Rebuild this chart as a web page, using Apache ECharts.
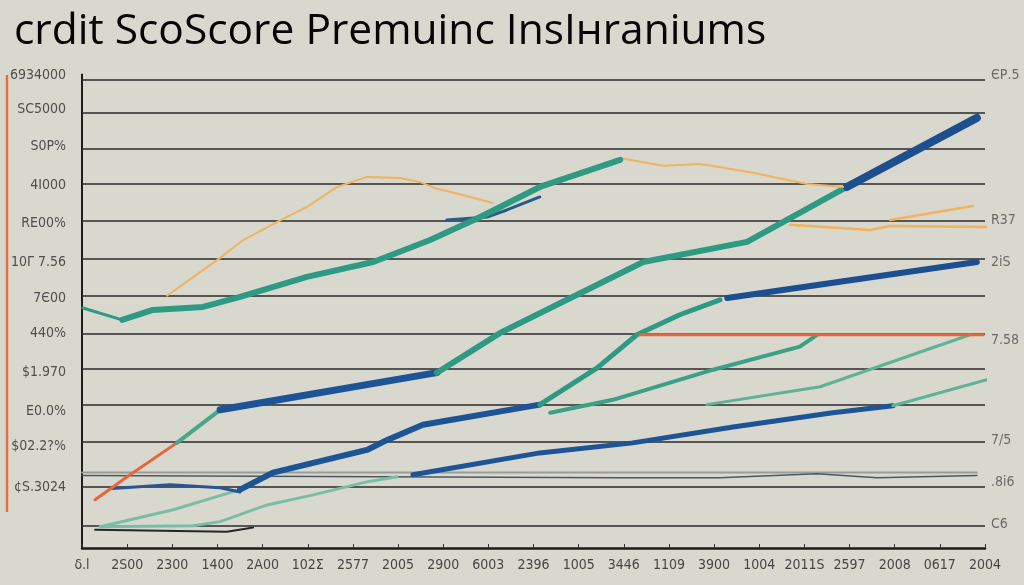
<!DOCTYPE html>
<html><head><meta charset="utf-8">
<script src="https://cdn.jsdelivr.net/npm/echarts@6/dist/echarts.min.js"></script>
<style>html,body{margin:0;padding:0;background:#d9d8ce;}#c{width:1024px;height:585px;}</style>
</head><body><div id="c"></div>
<script>
// ---- texts ----
const titleText = 'crdit ScoScore Premuinc InsIнraniums';
const xLabels = ['δ.l','2S00','2300','1400','2A00','102Σ','2577','2005','2900','6003','2396','1005','3446','1109','3900','1004','2011S','2597','2008','0617','2004'];
const leftLabels = ['6934000','SC5000','S0P%','4I000','RE00%','10Γ 7.56','7Є00','440%','$1.970','E0.0%','$02.2?%','¢S.3024'];
const leftLabelVals = [12.13, 11.22, 10.2, 9.17, 8.15, 7.1, 6.13, 5.19, 4.14, 3.07, 2.13, 1.02];
const rightLabels = ['ЄР.5','R37','2iS','7.58','7/5','.8i6','C6'];
const rightLabelVals = [12.13, 8.23, 7.1, 5.0, 2.31, 1.18, 0.03];
const gridVals = [0, 1.05, 2.26, 3.26, 4.22, 5.17, 6.19, 7.18, 8.21, 9.2, 10.14, 11.11, 12];

// ---- series values [x, y] ----
const orangeA = [[1.88,6.19],[3.06,7.21],[3.57,7.69],[4.45,8.26],[4.98,8.58],[5.65,9.12],[6.31,9.39],[7.04,9.36],[7.49,9.25],[7.86,9.07],[8.15,8.99],[9.10,8.69]];
const orangeB = [[11.92,9.90],[12.87,9.69],[13.69,9.74],[14.86,9.50],[16.06,9.20],[16.86,9.12]];
const orangeC = [[15.68,8.10],[17.45,7.96],[17.90,8.07],[20.15,8.04]];
const orangeD = [[17.90,8.23],[19.73,8.61]];
const teal1a = [[0.02,5.86],[0.89,5.54]];
const teal1 = [[0.89,5.54],[1.57,5.81],[2.68,5.89],[3.50,6.16],[4.98,6.70],[6.45,7.10],[7.71,7.69],[8.82,8.31],[10.14,9.12],[11.92,9.85]];
const blueSmall = [[8.08,8.23],[8.97,8.31],[9.41,8.50],[10.14,8.85]];
const red1 = [[0.29,0.70],[1.0,1.32],[2.10,2.23]];
const teal2a = [[2.10,2.23],[3.06,3.12]];
const blue1 = [[3.06,3.12],[7.86,4.12]];
const teal2b = [[7.86,4.12],[9.26,5.19],[12.43,7.10],[14.73,7.64],[16.94,9.12]];
const blue2 = [[16.94,9.12],[19.82,10.98]];
const blueB2a = [[0.66,1.0],[1.95,1.10],[3.06,1.02],[3.50,0.91]];
const tealL1 = [[0.40,-0.03],[2.02,0.43],[3.28,0.89],[3.50,0.97]];
const blueB2 = [[3.50,0.97],[4.23,1.43],[6.31,2.04],[6.76,2.31],[7.55,2.72],[10.14,3.26]];
const teal3 = [[10.14,3.26],[11.41,4.25],[12.29,5.14],[13.24,5.68],[14.13,6.08]];
const blue3 = [[14.29,6.13],[19.82,7.10]];
const teal4 = [[10.37,3.04],[11.76,3.39],[13.98,4.20],[15.90,4.82],[16.28,5.14]];
const teal5 = [[13.84,3.26],[16.35,3.74],[19.67,5.14]];
const tealL2 = [[0.40,-0.03],[2.46,0],[3.06,0.11],[4.10,0.56],[5.12,0.83],[6.31,1.18],[6.98,1.32]];
const blueB3 = [[7.33,1.37],[10.14,1.96],[12.20,2.23],[14.42,2.66],[16.63,3.04],[17.96,3.23]];
const teal6 = [[17.96,3.23],[20.04,3.93]];
const red2 = [[12.36,5.14],[19.96,5.14]];
const darkThin = [[0.29,-0.11],[3.21,-0.16],[3.79,-0.05]];
const grayFlat = [[0,1.43],[19.82,1.43]];
const darkWavy = [[0,1.35],[11.85,1.29],[14.13,1.29],[16.28,1.40],[17.61,1.29],[19.82,1.35]];

const ORANGE = '#f0b35e', TEAL = '#2f9a84', LTEAL = '#79bea4', BLUE = '#1c5496', RED = '#e4673a';
const seriesDefs = [
  [grayFlat, '#9b9b98', 2],
  [darkWavy, '#4b5862', 1.6],
  [darkThin, '#262626', 2],
  [tealL2, LTEAL, 3],
  [tealL1, LTEAL, 3],
  [blueB2a, '#2a5590', 3],
  [blueB3, BLUE, 5],
  [teal6, '#5fb295', 3],
  [teal5, '#5fb295', 3],
  [teal4, '#3aa088', 4],
  [blueB2, BLUE, 6],
  [teal3, TEAL, 5],
  [blue3, '#1b4f92', 6],
  [red1, RED, 3],
  [teal2a, '#4aa58a', 4],
  [blue1, BLUE, 7],
  [teal2b, TEAL, 6],
  [blue2, '#1d4f8f', 8],
  [red2, RED, 3],
  [orangeA, ORANGE, 2],
  [orangeB, ORANGE, 2],
  [orangeC, ORANGE, 2.5],
  [orangeD, ORANGE, 2.5],
  [blueSmall, '#2a5a8a', 3],
  [teal1a, TEAL, 3],
  [teal1, TEAL, 6]
];

const labelFont = '"DejaVu Sans Condensed","Liberation Sans Narrow","Liberation Sans",sans-serif';
const chart = echarts.init(document.getElementById('c'), null, {renderer:'canvas'});
const series = [{
  type:'line', xAxisIndex:1, yAxisIndex:0, data:[], silent:true, z:1,
  markLine:{silent:true, symbol:['none','none'], label:{show:false}, animation:false,
    lineStyle:{color:'#2a2a2a', width:1.6, type:'solid'},
    emphasis:{disabled:true},
    data: gridVals.map(v=>({yAxis:v}))}
}];
seriesDefs.forEach((d,i)=>{
  series.push({type:'line', xAxisIndex:1, yAxisIndex:0, data:d[0], symbol:'none', clip:false,
    z:2+i, silent:true, lineStyle:{color:d[1], width:d[2], cap:'round', join:'round'}});
});

chart.setOption({
  backgroundColor:'#d9d8ce',
  animation:false,
  title:{text:titleText, left:9, top:5,
    textStyle:{fontFamily:'"Open Sans",Roboto,sans-serif', fontSize:42.5, fontWeight:'normal', color:'#050505'}},
  grid:{left:82, right:39, top:74.4, bottom:37, containLabel:false},
  xAxis:[
    {type:'category', data:xLabels, boundaryGap:false,
     axisLine:{onZero:false, lineStyle:{color:'#1a1a1a', width:2.5}},
     axisTick:{inside:true, length:4, lineStyle:{color:'#333'}},
     axisLabel:{color:'#454545', fontSize:14, margin:10, fontFamily:labelFont, interval:0},
     splitLine:{show:false}},
    {type:'value', min:0, max:20, show:false}
  ],
  yAxis:[
    {type:'value', min:-0.6, max:12.15, position:'left',
     axisLine:{show:true, onZero:false, lineStyle:{color:'#1e1e1e', width:2}},
     axisTick:{show:false}, splitLine:{show:false},
     axisLabel:{customValues:leftLabelVals, color:'#4e4e4e', fontSize:14, margin:16, fontFamily:labelFont,
       formatter:(v)=>{const i=leftLabelVals.indexOf(v); return i>=0?leftLabels[i]:'';}}},
    {type:'value', min:-0.6, max:12.15, position:'right',
     axisLine:{show:false}, axisTick:{show:false}, splitLine:{show:false},
     axisLabel:{customValues:rightLabelVals, color:'#6a6a6a', fontSize:14, margin:6, fontFamily:labelFont,
       formatter:(v)=>{const i=rightLabelVals.indexOf(v); return i>=0?rightLabels[i]:'';}}}
  ],
  graphic:[{type:'line', shape:{x1:7, y1:75, x2:7, y2:512}, style:{stroke:'#e27444', lineWidth:2.5}, silent:true}],
  series:series
});
</script></body></html>
